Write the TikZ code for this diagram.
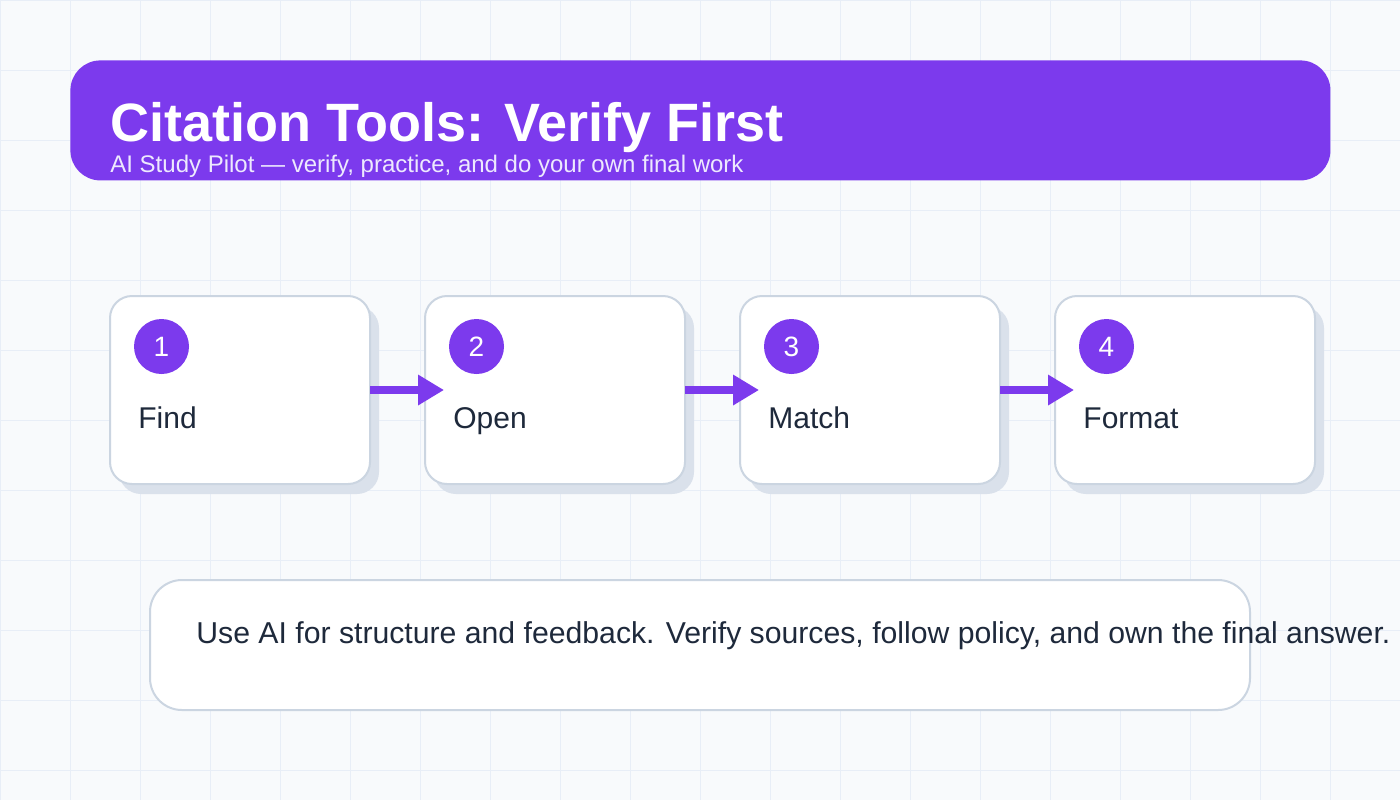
\documentclass[tikz,border=0pt]{standalone}
\usepackage{fontspec}
\setmainfont{Liberation Sans}
\usepackage{xcolor}
\usepackage{tikz}
\usetikzlibrary{arrows.meta,positioning,calc,shadows}
\definecolor{pagebg}{HTML}{F8FAFC}
\definecolor{gridblue}{HTML}{E8EEF7}
\definecolor{pilotpurple}{HTML}{7C3AED}
\definecolor{sublilac}{HTML}{EDE9FE}
\definecolor{boxedge}{HTML}{CBD5E1}
\definecolor{boxshade}{HTML}{DAE1EB}
\definecolor{inkdark}{HTML}{1E293B}
\tikzset{
  titlebar/.style = {rectangle, rounded corners=15pt, fill=pilotpurple,
                     minimum width=630pt, minimum height=60pt, inner sep=0pt},
  titletxt/.style = {font=\fontsize{27pt}{32pt}\selectfont\bfseries, text=white,
                     inner sep=0pt},
  subtxt/.style   = {font=\fontsize{12pt}{14pt}\selectfont, text=sublilac,
                     inner sep=0pt},
  stepbox/.style  = {rectangle, rounded corners=11pt, draw=boxedge, fill=white,
                     line width=1pt, minimum width=130pt, minimum height=94pt,
                     inner sep=0pt, outer sep=0pt,
                     general shadow={fill=boxshade, shadow xshift=4.5pt,
                                     shadow yshift=-5pt}},
  stepnum/.style  = {circle, fill=pilotpurple, text=white, minimum size=27.5pt,
                     inner sep=0pt, font=\fontsize{14pt}{16pt}\selectfont},
  steplbl/.style  = {font=\fontsize{15pt}{17pt}\selectfont, text=inkdark,
                     inner sep=0pt},
  notebox/.style  = {rectangle, rounded corners=16pt, draw=boxedge, fill=white,
                     line width=1pt, minimum width=550pt, minimum height=65pt,
                     inner sep=0pt, outer sep=0pt},
  notetxt/.style  = {font=\fontsize{15.1pt}{17pt}\selectfont, text=inkdark,
                     inner sep=0pt},
  flowarr/.style  = {-{Triangle[length=13pt, width=14.5pt]}, line width=4pt,
                     draw=pilotpurple},
}

\begin{document}
\begin{tikzpicture}[x=0.5pt, y=-0.5pt]

% page and grid
\useasboundingbox (0,0) rectangle (1400,800);
\fill[pagebg] (0,0) rectangle (1400,800);
\draw[gridblue, line width=0.5pt, step=35pt] (0,0) grid (1400,800);

% header
\node[titlebar, anchor=north west] (header) at (70,60) {};
\node[titletxt, anchor=base west] (htitle) at (110,141) {Citation Tools: Verify First};
\node[subtxt, anchor=base west] (hsub) at (110,172)
  {AI Study Pilot — verify, practice, and do your own final work};

% steps
\node[stepbox, anchor=north west] (find) at (110,296) {};
\node[stepbox, right=27.5pt of find] (open) {};
\node[stepbox, right=27.5pt of open] (match) {};
\node[stepbox, right=27.5pt of match] (format) {};

\node[stepnum] (n1) at ($(find.north west)+(51.5,50.5)$) {1};
\node[steplbl, anchor=base west] (l1) at ($(find.north west)+(28,132)$) {Find};
\node[stepnum] (n2) at ($(open.north west)+(51.5,50.5)$) {2};
\node[steplbl, anchor=base west] (l2) at ($(open.north west)+(28,132)$) {Open};
\node[stepnum] (n3) at ($(match.north west)+(51.5,50.5)$) {3};
\node[steplbl, anchor=base west] (l3) at ($(match.north west)+(28,132)$) {Match};
\node[stepnum] (n4) at ($(format.north west)+(51.5,50.5)$) {4};
\node[steplbl, anchor=base west] (l4) at ($(format.north west)+(28,132)$) {Format};

\draw[flowarr] (find.east) -- ([xshift=9.5pt]open.west);
\draw[flowarr] (open.east) -- ([xshift=9.5pt]match.west);
\draw[flowarr] (match.east) -- ([xshift=9.5pt]format.west);

% note
\node[notebox, anchor=north west] (note) at (150,580) {};
\node[notetxt, anchor=base west] (notetext) at (196,643)
  {Use AI for structure and feedback. Verify sources, follow policy, and own the final answer.};

\end{tikzpicture}
\end{document}
